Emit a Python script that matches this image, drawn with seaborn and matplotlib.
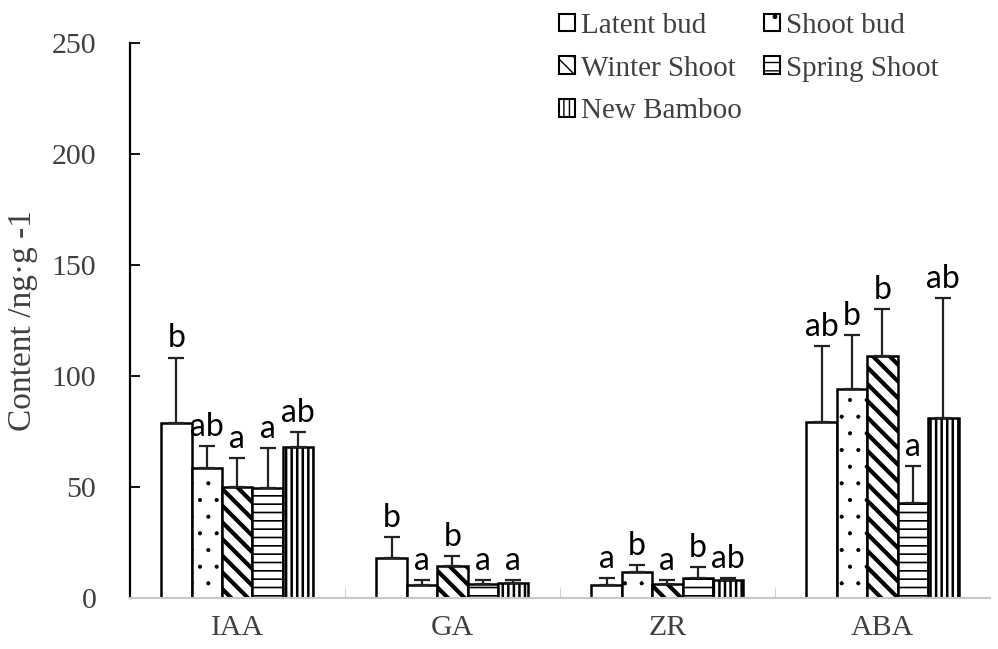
import numpy as np
import pandas as pd
import matplotlib
matplotlib.use('Agg')
import matplotlib.pyplot as plt
from matplotlib.patches import Patch
from matplotlib.ticker import FixedLocator
import seaborn as sns

###############################################################################
# Data
###############################################################################
HORMONES = ['IAA', 'GA', 'ZR', 'ABA']
STAGES = ['Latent bud', 'Shoot bud', 'Winter Shoot', 'Spring Shoot', 'New Bamboo']
LATENT = [78.8, 18.0, 6.0, 79.4]
SHOOT = [58.5, 6.0, 11.7, 94.0]
WINTER = [50.0, 14.5, 6.3, 109.0]
SPRING = [49.5, 6.3, 9.0, 42.8]
NEWBAM = [68.0, 6.8, 8.0, 81.2]
ERR_LATENT = [29.5, 9.5, 3.0, 34.2]
ERR_SHOOT = [10.0, 2.0, 3.3, 24.5]
ERR_WINTER = [13.0, 4.5, 1.7, 21.0]
ERR_SPRING = [18.0, 1.7, 5.0, 16.7]
ERR_NEWBAM = [6.8, 1.2, 1.0, 54.1]
LET_LATENT = ['b', 'b', 'a', 'ab']
LET_SHOOT = ['ab', 'a', 'b', 'b']
LET_WINTER = ['a', 'b', 'a', 'b']
LET_SPRING = ['a', 'a', 'b', 'a']
LET_NEWBAM = ['ab', 'a', 'ab', 'ab']

VALS = [LATENT, SHOOT, WINTER, SPRING, NEWBAM]
ERRS = [ERR_LATENT, ERR_SHOOT, ERR_WINTER, ERR_SPRING, ERR_NEWBAM]
LETS = [LET_LATENT, LET_SHOOT, LET_WINTER, LET_SPRING, LET_NEWBAM]
HATCH = ['', '.', '\\\\', '--', '|||']
HLW = [1.0, 0.5, 3.0, 1.2, 1.8]

df = pd.DataFrame({
    'hormone': [h for s in STAGES for h in HORMONES],
    'stage': [s for s in STAGES for h in HORMONES],
    'value': [v for vs in VALS for v in vs],
})

###############################################################################
# Plot
###############################################################################
sns.set_style('white')
plt.rcParams['font.family'] = ['Liberation Serif', 'DejaVu Serif']
TXT = '#404040'

fig = plt.figure(figsize=(9.98, 6.49), dpi=100)
ax = fig.add_axes([0.130, 0.0786, 0.862, 0.855])
sns.barplot(
    data=df, x='hormone', y='value', hue='stage', order=HORMONES,
    hue_order=STAGES, ax=ax, width=0.707, errorbar=None,
    palette=['white'] * 5, edgecolor='black', linewidth=1.8, legend=False
)
bar_conts = list(ax.containers)
for i, cont in enumerate(bar_conts):
    for j, bar in enumerate(cont.patches):
        bar.set_hatch(HATCH[i])
        bar.set_facecolor('white')
        bar.set_edgecolor('black')
        if hasattr(bar, 'set_hatch_linewidth'):
            bar.set_hatch_linewidth(HLW[i])
        xc = bar.get_x() + bar.get_width() / 2
        h = bar.get_height()
        ax.errorbar(
            xc, h, yerr=[[0], [ERRS[i][j]]], fmt='none', ecolor='#222222',
            elinewidth=1.6, capsize=6, capthick=1.6, zorder=1
        )
        ax.annotate(
            LETS[i][j], (xc, h + ERRS[i][j]), xytext=(0, 3),
            textcoords='offset points', ha='center', va='bottom',
            fontsize=23, family='Lato', color='black'
        )

ax.set_xlim(-0.5, 3.5)
ax.set_ylim(0, 250)
ax.set_yticks([0, 50, 100, 150, 200, 250])
ax.tick_params(axis='y', direction='in', length=7, width=1.3, color='black',
               labelsize=21.5, labelcolor=TXT, left=True, pad=24)
ax.tick_params(axis='x', which='major', length=0, labelsize=21.5,
               labelcolor=TXT, pad=12)
ax.xaxis.set_minor_locator(FixedLocator([0.5, 1.5, 2.5]))
ax.tick_params(axis='x', which='minor', direction='in', length=7,
               color='#c8c8c8', bottom=True)
ax.set_xlabel('')
ax.set_ylabel('Content /ng·g -1', fontsize=24, color=TXT, labelpad=10)
for s in ['top', 'right']:
    ax.spines[s].set_visible(False)
ax.spines['left'].set_color('black')
ax.spines['left'].set_linewidth(1.6)
ax.spines['bottom'].set_color('#c8c8c8')
ax.spines['bottom'].set_linewidth(1.5)
ax.spines['left'].set_bounds(0, 250)

# legend (column-major order for row-wise reading)
handles = []
for i, s in enumerate(STAGES):
    p = Patch(facecolor='white', edgecolor='black', hatch=HATCH[i],
              linewidth=1.5, label=s)
    if hasattr(p, 'set_hatch_linewidth'):
        p.set_hatch_linewidth(1.0)
    handles.append(p)
order = [0, 2, 4, 1, 3]
leg = fig.legend(
    [handles[k] for k in order], [STAGES[k] for k in order],
    loc='upper left', bbox_to_anchor=(0.540, 1.012), ncol=2, frameon=False,
    fontsize=21, handlelength=0.55, handleheight=0.55, handletextpad=0.2,
    columnspacing=0.75, labelspacing=0.58, borderpad=0.2
)
for t in leg.get_texts():
    t.set_color(TXT)

fig.savefig('out.png', dpi=100)
